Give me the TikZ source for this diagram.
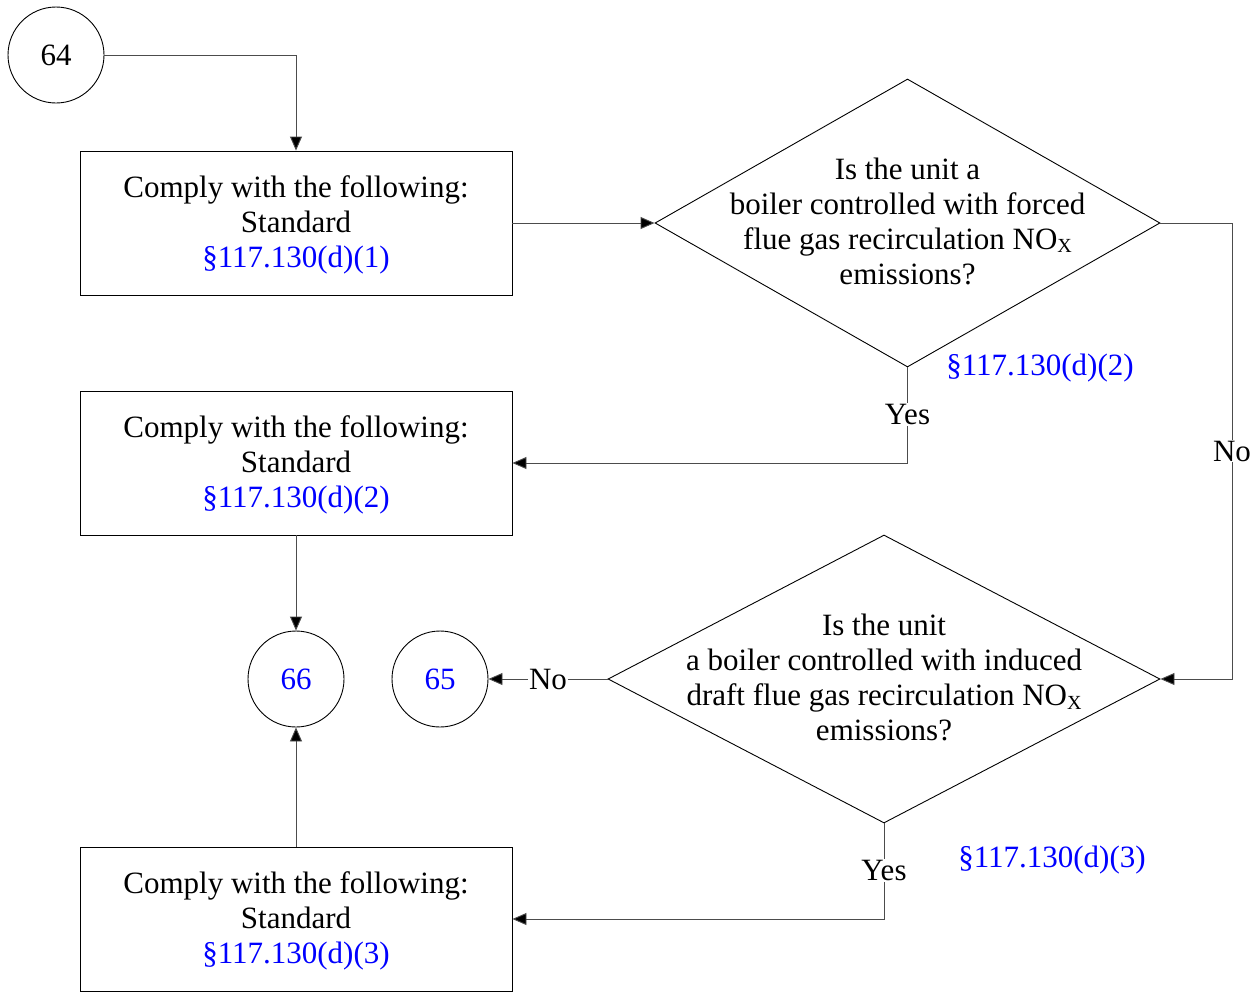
\documentclass[tikz,border=0pt]{standalone}
\usepackage{fontspec}
\setmainfont{Liberation Serif}
\usetikzlibrary{arrows.meta,shapes.geometric}
\begin{document}
\begin{tikzpicture}[x=1pt,y=-1pt,
  every node/.style={font=\fontsize{31}{35}\selectfont},
  box/.style={draw,line width=0.9pt,minimum width=432pt,minimum height=144pt,inner sep=0pt},
  dia/.style={draw,diamond,line width=0.9pt,inner sep=0pt},
  circ/.style={draw,circle,line width=0.9pt,minimum size=96pt,inner sep=0pt},
  txt/.style={align=center,inner sep=0pt},
  conn/.style={draw=black!70,line width=0.9pt,-{Triangle[length=14pt,width=12pt,fill=black]}},
  lab/.style={fill=white,inner sep=1pt},
  ref/.style={text=blue}]
\useasboundingbox (0,0) rectangle (1260,991);
\node[circ] (c64) at (56,55) {64};
\node[box] (b1) at (296,223) {};
\node[txt] (t1) at (296,225) {Comply with the following:\\Standard\\\textcolor{blue}{§117.130(d)(1)}};
\node[dia,minimum width=505pt,minimum height=288pt] (d1) at (907.5,223) {};
\node[txt] (td1) at (907.5,221) {Is the unit a\\boiler controlled with forced\\flue gas recirculation NO\raisebox{-0.25ex}{\fontsize{20}{20}\selectfont X}\\emissions?};
\node[box] (b2) at (296,463) {};
\node[txt] (t2) at (296,465) {Comply with the following:\\Standard\\\textcolor{blue}{§117.130(d)(2)}};
\node[circ,ref] (c66) at (296,679) {66};
\node[circ,ref] (c65) at (440,679) {65};
\node[dia,minimum width=552pt,minimum height=288pt] (d2) at (884,679) {};
\node[txt] (td2) at (884,677.5) {Is the unit\\a boiler controlled with induced\\draft flue gas recirculation NO\raisebox{-0.25ex}{\fontsize{20}{20}\selectfont X}\\emissions?};
\node[box] (b3) at (296,919) {};
\node[txt] (t3) at (296,921) {Comply with the following:\\Standard\\\textcolor{blue}{§117.130(d)(3)}};
\node[ref,inner sep=0pt] (r2) at (1040,368) {§117.130(d)(2)};
\node[ref,inner sep=0pt] (r3) at (1052,860) {§117.130(d)(3)};
\coordinate (k1) at (1232,223);
\coordinate (k2) at (1232,679);
\path[conn] (c64.east) -| (b1.north);
\path[conn] (b1.east) -- (d1.west);
\path[conn] (d1.south) |- node[lab,pos=0.245] {Yes} (b2.east);
\path[conn] (d1.east) -- (k1) -- node[lab] {No} (k2) -- (d2.east);
\path[conn] (b2.south) -- (c66.north);
\path[conn] (d2.west) -- node[lab] {No} (c65.east);
\path[conn] (d2.south) |- node[lab,pos=0.245] {Yes} (b3.east);
\path[conn] (b3.north) -- (c66.south);
\end{tikzpicture}
\end{document}
